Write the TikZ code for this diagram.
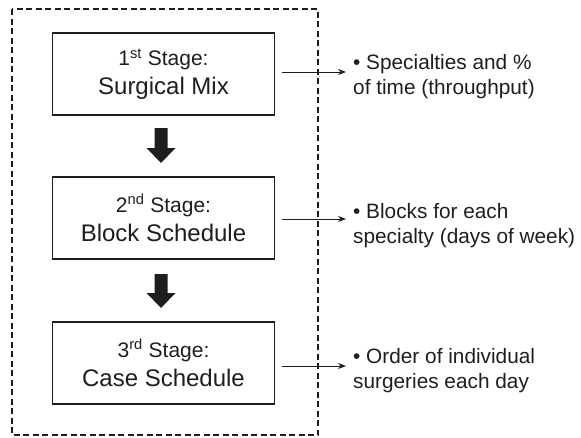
\documentclass[tikz,border=0pt]{standalone}
\usepackage{fontspec}
\setmainfont{Liberation Sans}
\usetikzlibrary{arrows.meta}
\definecolor{ink}{HTML}{1E1E1E}
\tikzset{
  stagebox/.style={draw=ink, line width=1.3pt, minimum width=222pt, minimum height=82pt,
    inner sep=0pt, align=center, text=ink, font=\fontsize{24}{29}\selectfont},
  outtext/.style={anchor=west, inner xsep=7pt, inner ysep=0pt, align=left, text=ink,
    font=\fontsize{20.8}{25}\selectfont},
  conn/.style={draw=ink, line width=0.9pt, -{Stealth[length=8pt,width=6pt]}},
  frame/.style={draw=ink, line width=1.2pt, dash pattern=on 6pt off 3.5pt},
  blockarrow/.style={fill=ink, draw=none}
}
\newcommand{\smalltxt}{\fontsize{21}{25}\selectfont}
\begin{document}
\begin{tikzpicture}[x=1pt,y=-1pt]
\useasboundingbox (0,0) rectangle (581,437);
\draw[frame] (12,9) rectangle (318,435);
\node[stagebox] (s1) at (163.5,74) {{\smalltxt 1\textsuperscript{st} Stage:}\\Surgical Mix};
\node[stagebox] (s2) at (163.5,218) {{\smalltxt 2\textsuperscript{nd} Stage:}\\Block Schedule};
\node[stagebox] (s3) at (163.5,363) {{\smalltxt 3\textsuperscript{rd} Stage:}\\Case Schedule};
\node[outtext] (o1) at (346,77) {• Specialties and \%\\of time (throughput)};
\node[outtext] (o2) at (346,226) {• Blocks for each\\specialty (days of week)};
\node[outtext] (o3) at (346,371) {• Order of individual\\surgeries each day};
\draw[conn] ([xshift=7pt,yshift=2pt]s1.east) -- ([yshift=2pt]s1.east -| o1.west);
\draw[conn] ([xshift=7pt,yshift=-1pt]s2.east) -- ([yshift=-1pt]s2.east -| o2.west);
\draw[conn] ([xshift=7pt,yshift=-3pt]s3.east) -- ([yshift=-3pt]s3.east -| o3.west);
\fill[blockarrow] (154.5,128) -- (167.5,128) -- (167.5,148) -- (175.5,148) -- (161,163) -- (146.5,148) -- (154.5,148) -- cycle;
\fill[blockarrow] (154.5,274) -- (167.5,274) -- (167.5,293) -- (175.5,293) -- (161,308) -- (146.5,293) -- (154.5,293) -- cycle;
\end{tikzpicture}
\end{document}
